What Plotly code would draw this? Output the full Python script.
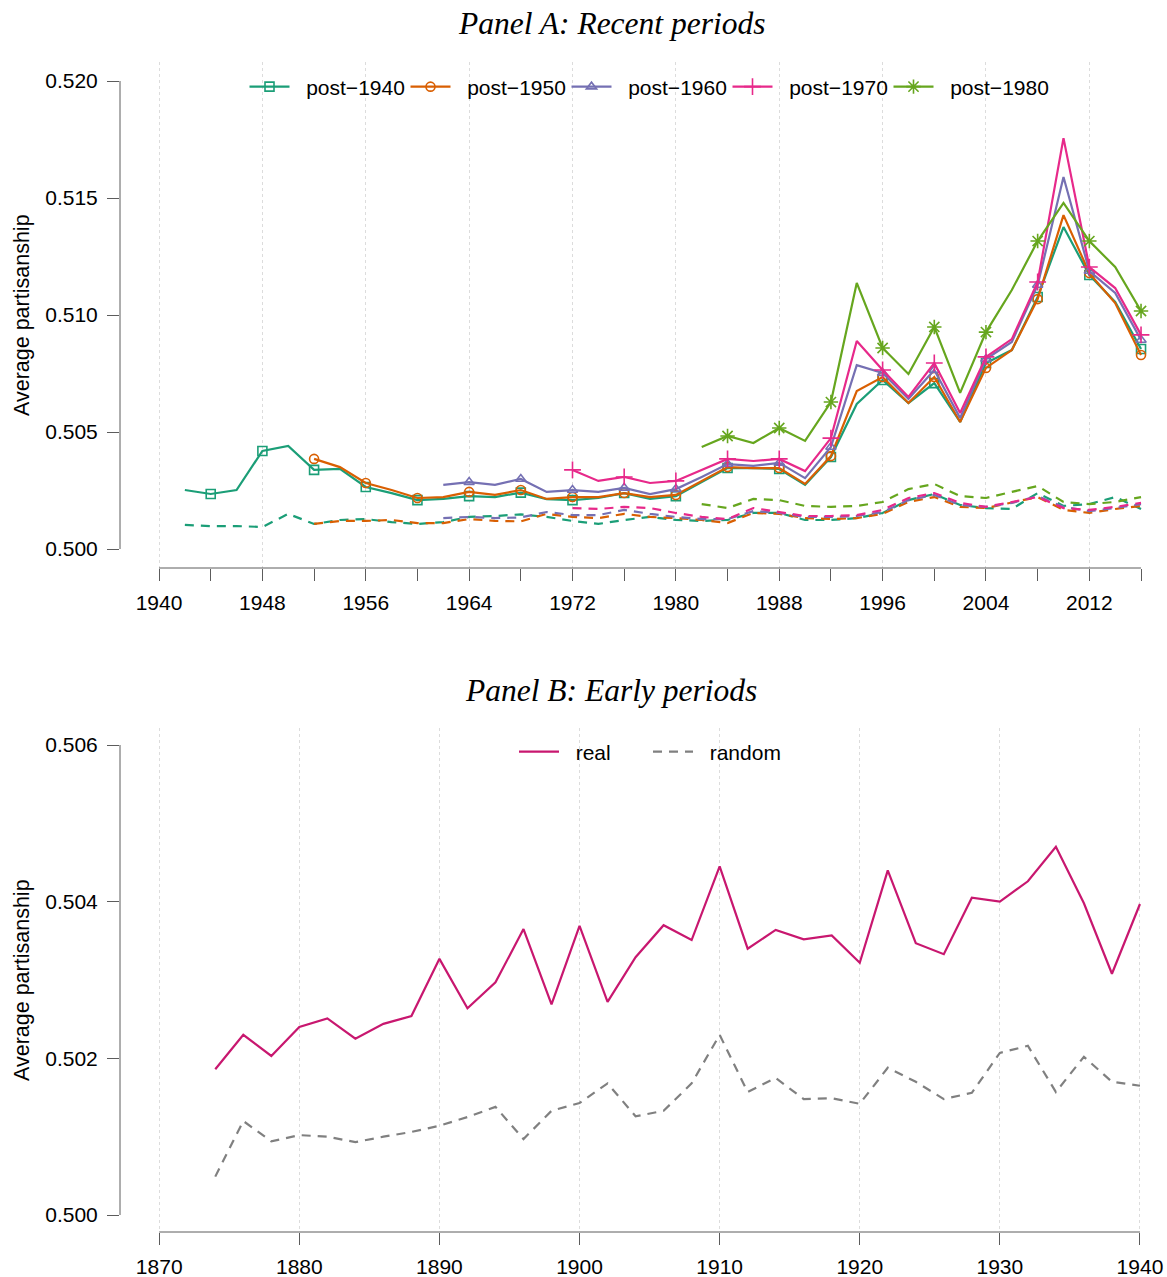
import plotly.graph_objects as go

# ---------------- Panel A: recent periods (biennial, 1942-2016) ----------------
series_names = ["post\u22121940", "post\u22121950", "post\u22121960", "post\u22121970", "post\u22121980"]
series_start = [1942, 1952, 1962, 1972, 1982]
series_colors = ["#1B9E77", "#D95F02", "#7570B3", "#E7298A", "#66A61E"]
series_symbols = ["square-open", "circle-open", "triangle-up-open", "cross-thin-open", "asterisk-open"]
last_year_a = 2016

real_1940 = [0.50252, 0.50235, 0.50252, 0.50419, 0.50440, 0.50338, 0.50342, 0.50265, 0.50239, 0.50209,
             0.50214, 0.50226, 0.50222, 0.50241, 0.50213, 0.50209, 0.50218, 0.50239, 0.50214, 0.50226,
             0.50286, 0.50346, 0.50346, 0.50342, 0.50274, 0.50393, 0.50620, 0.50722, 0.50624, 0.50709,
             0.50543, 0.50795, 0.50850, 0.51077, 0.51376, 0.51171, 0.51056, 0.50855]
real_1950 = [0.50385, 0.50350, 0.50282, 0.50252, 0.50218, 0.50222, 0.50244, 0.50231, 0.50252, 0.50214,
             0.50222, 0.50222, 0.50239, 0.50222, 0.50231, 0.50290, 0.50350, 0.50346, 0.50346, 0.50278,
             0.50397, 0.50675, 0.50735, 0.50624, 0.50735, 0.50543, 0.50774, 0.50850, 0.51068, 0.51427,
             0.51179, 0.51051, 0.50829]
real_1960 = [0.50274, 0.50286, 0.50274, 0.50299, 0.50244, 0.50252, 0.50244, 0.50261, 0.50235, 0.50256,
             0.50308, 0.50363, 0.50355, 0.50368, 0.50303, 0.50436, 0.50786, 0.50752, 0.50641, 0.50765,
             0.50560, 0.50812, 0.50885, 0.51128, 0.51590, 0.51188, 0.51094, 0.50893]
real_1970 = [0.50338, 0.50291, 0.50308, 0.50282, 0.50291, 0.50338, 0.50385, 0.50376, 0.50385, 0.50333,
             0.50474, 0.50889, 0.50765, 0.50650, 0.50795, 0.50581, 0.50821, 0.50897, 0.51141, 0.51756,
             0.51205, 0.51115, 0.50915]
real_1980 = [0.50436, 0.50483, 0.50453, 0.50517, 0.50462, 0.50628, 0.51137, 0.50859, 0.50748, 0.50949,
             0.50667, 0.50927, 0.51107, 0.51316, 0.51479, 0.51316, 0.51205, 0.51017]

rand_1940 = [0.50103, 0.50098, 0.50098, 0.50094, 0.50150, 0.50107, 0.50124, 0.50128, 0.50115, 0.50107,
             0.50115, 0.50137, 0.50141, 0.50148, 0.50137, 0.50120, 0.50107, 0.50124, 0.50137, 0.50124,
             0.50120, 0.50124, 0.50154, 0.50154, 0.50124, 0.50124, 0.50132, 0.50154, 0.50209, 0.50235,
             0.50188, 0.50175, 0.50171, 0.50239, 0.50184, 0.50192, 0.50222, 0.50171]
rand_1950 = [0.50107, 0.50120, 0.50120, 0.50124, 0.50111, 0.50111, 0.50128, 0.50120, 0.50118, 0.50150,
             0.50137, 0.50132, 0.50150, 0.50137, 0.50132, 0.50124, 0.50111, 0.50154, 0.50150, 0.50132,
             0.50128, 0.50132, 0.50150, 0.50201, 0.50222, 0.50180, 0.50175, 0.50197, 0.50222, 0.50167,
             0.50154, 0.50171, 0.50184]
rand_1960 = [0.50132, 0.50137, 0.50132, 0.50135, 0.50158, 0.50145, 0.50145, 0.50167, 0.50150, 0.50137,
             0.50128, 0.50128, 0.50162, 0.50154, 0.50137, 0.50137, 0.50141, 0.50158, 0.50209, 0.50231,
             0.50188, 0.50180, 0.50197, 0.50226, 0.50180, 0.50162, 0.50175, 0.50192]
rand_1970 = [0.50175, 0.50171, 0.50180, 0.50175, 0.50154, 0.50137, 0.50128, 0.50175, 0.50158, 0.50141,
             0.50141, 0.50145, 0.50167, 0.50218, 0.50239, 0.50197, 0.50180, 0.50201, 0.50222, 0.50175,
             0.50167, 0.50180, 0.50197]
rand_1980 = [0.50192, 0.50175, 0.50214, 0.50209, 0.50184, 0.50180, 0.50184, 0.50201, 0.50256, 0.50278,
             0.50226, 0.50218, 0.50244, 0.50269, 0.50201, 0.50192, 0.50201, 0.50222]

real_a = [real_1940, real_1950, real_1960, real_1970, real_1980]
rand_a = [rand_1940, rand_1950, rand_1960, rand_1970, rand_1980]

ticks_a_y = [0.500, 0.505, 0.510, 0.515, 0.520]

# ---------------- Panel B: early periods (biennial, 1874-1940) ----------------
years_b = list(range(1874, 1941, 2))
real_b = [0.50186, 0.50230, 0.50203, 0.50240, 0.50251, 0.50225, 0.50244, 0.50254, 0.50327, 0.50264,
          0.50297, 0.50365, 0.50269, 0.50369, 0.50272, 0.50329, 0.50370, 0.50351, 0.50445, 0.50340,
          0.50364, 0.50352, 0.50357, 0.50322, 0.50440, 0.50347, 0.50333, 0.50405, 0.50400, 0.50426,
          0.50470, 0.50398, 0.50308, 0.50397]
rand_b = [0.50049, 0.50120, 0.50094, 0.50102, 0.50100, 0.50093, 0.50100, 0.50106, 0.50114, 0.50125,
          0.50138, 0.50097, 0.50133, 0.50143, 0.50168, 0.50126, 0.50133, 0.50168, 0.50230, 0.50157,
          0.50175, 0.50148, 0.50149, 0.50142, 0.50188, 0.50170, 0.50148, 0.50156, 0.50207, 0.50216,
          0.50157, 0.50202, 0.50170, 0.50165]
ticks_b_y = [0.500, 0.502, 0.504, 0.506]
real_b_color = "#C8176F"
rand_b_color = "#808080"

# ---------------- geometry (pixels) ----------------
W, H = 1167, 1277
PLOT_L = 120
A_TOP, A_BOT = 62, 568
B_TOP, B_BOT = 728, 1232


def px_x(p):
    return p / W


def px_y(p):
    return 1 - p / H


AXIS_COLOR = "#5c5c5c"
GRID_COLOR = "#DCDCDC"
FONT_SIZE = 21
TICK_FONT = dict(family="Liberation Sans, Arial, sans-serif", size=FONT_SIZE, color="black")
LW = 2.2
DASH = "9px,7px"
PAD = "\u00a0\u00a0"  # gap between legend key and label

fig = go.Figure()

for name, start, color, sym, real, rand in zip(series_names, series_start, series_colors,
                                                 series_symbols, real_a, rand_a):
    yrs = list(range(start, last_year_a + 1, 2))
    fig.add_trace(go.Scatter(x=yrs, y=rand, mode="lines", showlegend=False, hoverinfo="skip",
                             line=dict(color=color, width=LW, dash=DASH), xaxis="x", yaxis="y"))
    fig.add_trace(go.Scatter(x=yrs, y=real, mode="lines", showlegend=False,
                             line=dict(color=color, width=LW), xaxis="x", yaxis="y"))
    mk_x = [yv for yv in yrs if yv % 4 == 0]
    mk_y = [v for yv, v in zip(yrs, real) if yv % 4 == 0]
    mk_size = 12 if sym in ("cross-thin-open", "asterisk-open") else 9
    fig.add_trace(go.Scatter(x=mk_x, y=mk_y, mode="markers", showlegend=False,
                             marker=dict(symbol=sym, size=mk_size, color=color,
                                         line=dict(color=color, width=1.6)),
                             xaxis="x", yaxis="y"))
    fig.add_trace(go.Scatter(x=[None], y=[None], mode="lines+markers", name=PAD + name,
                             legend="legend",
                             line=dict(color=color, width=LW),
                             marker=dict(symbol=sym, size=mk_size, color=color,
                                         line=dict(color=color, width=1.6)),
                             xaxis="x", yaxis="y"))

fig.add_trace(go.Scatter(x=years_b, y=rand_b, mode="lines", name=PAD + "random", legend="legend2",
                         line=dict(color=rand_b_color, width=LW, dash=DASH), xaxis="x2", yaxis="y2"))
fig.add_trace(go.Scatter(x=years_b, y=real_b, mode="lines", name=PAD + "real", legend="legend2",
                         line=dict(color=real_b_color, width=LW), xaxis="x2", yaxis="y2"))

common_x = dict(showline=False, zeroline=False, ticks="outside", ticklen=12, tickwidth=1,
                tickcolor=AXIS_COLOR, tickfont=TICK_FONT, showgrid=True, gridcolor=GRID_COLOR,
                griddash="3px,3px", gridwidth=1, automargin=False, ticklabelstandoff=4)
common_y = dict(showline=False, zeroline=False, ticks="outside", ticklen=12, tickwidth=1,
                tickcolor=AXIS_COLOR, tickfont=TICK_FONT, showgrid=False, tickformat=".3f",
                automargin=False, ticklabelstandoff=5)

fig.update_layout(
    width=W, height=H,
    margin=dict(l=0, r=0, t=0, b=0),
    paper_bgcolor="white", plot_bgcolor="white",
    font=dict(family="Liberation Sans, Arial, sans-serif", size=FONT_SIZE, color="black"),
    xaxis=dict(domain=[px_x(PLOT_L), 1], range=[1936.98, 2018.01], anchor="y",
               tickmode="linear", tick0=1940, dtick=8,
               minor=dict(tick0=1940, dtick=4, ticks="outside", ticklen=12, tickcolor=AXIS_COLOR,
                          showgrid=False),
               **common_x),
    yaxis=dict(domain=[px_y(A_BOT), px_y(A_TOP)], range=[0.499188, 0.520812], anchor="x",
               tickmode="array", tickvals=ticks_a_y, **common_y),
    xaxis2=dict(domain=[px_x(PLOT_L), 1], range=[1867.2, 1941.93], anchor="y2",
                tickmode="linear", tick0=1870, dtick=10, **common_x),
    yaxis2=dict(domain=[px_y(B_BOT), px_y(B_TOP)], range=[0.499783, 0.506217], anchor="x2",
                tickmode="array", tickvals=ticks_b_y, **common_y),
    legend=dict(orientation="h", x=px_x(647), xanchor="center", y=px_y(87), yanchor="middle",
                bgcolor="rgba(0,0,0,0)", font=dict(size=FONT_SIZE), itemwidth=40,
                entrywidth=106, traceorder="normal"),
    legend2=dict(orientation="h", x=px_x(648), xanchor="center", y=px_y(752), yanchor="middle",
                 bgcolor="rgba(0,0,0,0)", font=dict(size=FONT_SIZE), itemwidth=40,
                 entrywidth=79, traceorder="reversed"),
    showlegend=True,
)

# axis lines spanning only the tick range
shapes = [
    dict(type="line", xref="x", yref="paper", x0=1940, x1=2016, y0=px_y(A_BOT), y1=px_y(A_BOT),
         line=dict(color=AXIS_COLOR, width=1)),
    dict(type="line", xref="paper", yref="y", x0=px_x(PLOT_L), x1=px_x(PLOT_L),
         y0=ticks_a_y[0], y1=ticks_a_y[-1], line=dict(color=AXIS_COLOR, width=1)),
    dict(type="line", xref="x2", yref="paper", x0=1870, x1=1940, y0=px_y(B_BOT), y1=px_y(B_BOT),
         line=dict(color=AXIS_COLOR, width=1)),
    dict(type="line", xref="paper", yref="y2", x0=px_x(PLOT_L), x1=px_x(PLOT_L),
         y0=ticks_b_y[0], y1=ticks_b_y[-1], line=dict(color=AXIS_COLOR, width=1)),
]
fig.update_layout(shapes=shapes)

title_font = dict(family="Liberation Serif, Times New Roman, serif", size=31.5, color="black",
                  style="italic")
ylab_font = dict(family="Liberation Sans, Arial, sans-serif", size=21.5, color="black")
fig.update_layout(annotations=[
    dict(text="Panel A: Recent periods", xref="paper", yref="paper", x=px_x(611), y=px_y(24),
         xanchor="center", yanchor="middle", showarrow=False, font=title_font),
    dict(text="Panel B: Early periods", xref="paper", yref="paper", x=px_x(611), y=px_y(690),
         xanchor="center", yanchor="middle", showarrow=False, font=title_font),
    dict(text="Average partisanship", xref="paper", yref="paper", x=px_x(22), y=px_y(315),
         xanchor="center", yanchor="middle", textangle=-90, showarrow=False, font=ylab_font),
    dict(text="Average partisanship", xref="paper", yref="paper", x=px_x(22), y=px_y(980),
         xanchor="center", yanchor="middle", textangle=-90, showarrow=False, font=ylab_font),
])

fig.write_html("out.html")
